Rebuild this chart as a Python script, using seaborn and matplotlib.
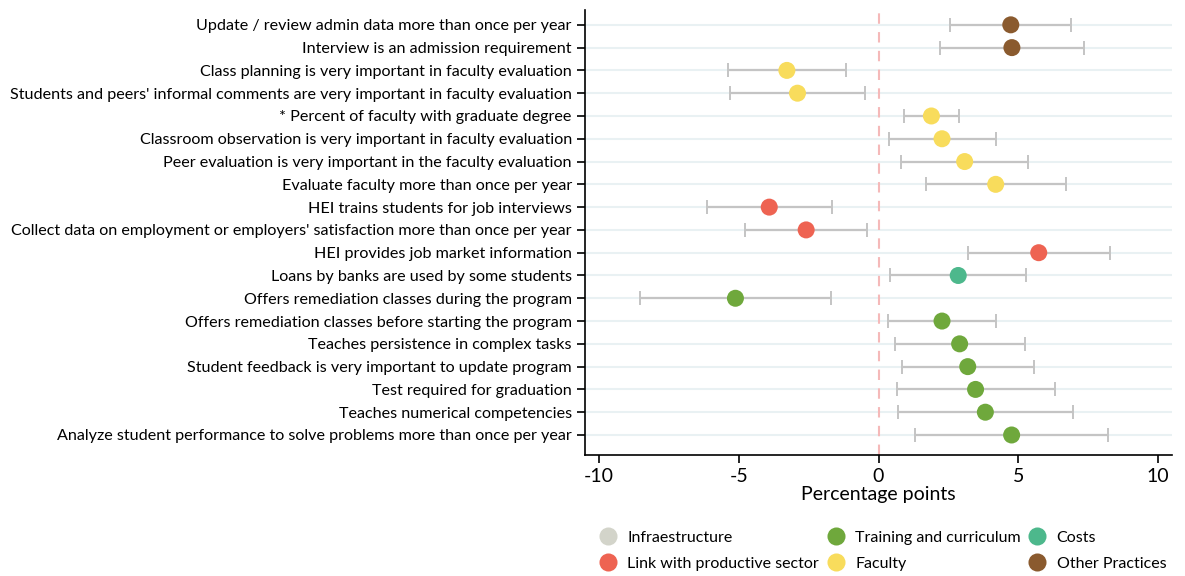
import numpy as np
import pandas as pd
import matplotlib
matplotlib.use("Agg")
from matplotlib import pyplot as plt
from matplotlib.lines import Line2D
import seaborn as sns

labels = [
    "Update / review admin data more than once per year",
    "Interview is an admission requirement",
    "Class planning is very important in faculty evaluation",
    "Students and peers' informal comments are very important in faculty evaluation",
    "* Percent of faculty with graduate degree",
    "Classroom observation is very important in faculty evaluation",
    "Peer evaluation is very important in the faculty evaluation",
    "Evaluate faculty more than once per year",
    "HEI trains students for job interviews",
    "Collect data on employment or employers' satisfaction more than once per year",
    "HEI provides job market information",
    "Loans by banks are used by some students",
    "Offers remediation classes during the program",
    "Offers remediation classes before starting the program",
    "Teaches persistence in complex tasks",
    "Student feedback is very important to update program",
    "Test required for graduation",
    "Teaches numerical competencies",
    "Analyze student performance to solve problems more than once per year",
]
groups = [
    "Other Practices", "Other Practices",
    "Faculty", "Faculty", "Faculty", "Faculty", "Faculty", "Faculty",
    "Link with productive sector", "Link with productive sector", "Link with productive sector",
    "Costs",
    "Training and curriculum", "Training and curriculum", "Training and curriculum",
    "Training and curriculum", "Training and curriculum", "Training and curriculum",
    "Training and curriculum",
]
estimate = [4.73, 4.77, -3.28, -2.90, 1.89, 2.27, 3.08, 4.19, -3.91, -2.59,
            5.73, 2.85, -5.12, 2.27, 2.90, 3.19, 3.47, 3.82, 4.76]
ci_low = [2.57, 2.19, -5.40, -5.32, 0.92, 0.37, 0.79, 1.68, -6.14, -4.76,
          3.20, 0.41, -8.54, 0.34, 0.59, 0.85, 0.66, 0.68, 1.30]
ci_high = [6.88, 7.36, -1.16, -0.47, 2.86, 4.19, 5.36, 6.70, -1.68, -0.42,
           8.28, 5.28, -1.70, 4.21, 5.23, 5.57, 6.31, 6.95, 8.22]

legend_order = ["Infraestructure", "Link with productive sector", "Training and curriculum",
                "Faculty", "Costs", "Other Practices"]
palette = {
    "Infraestructure": "#d3d4ca",
    "Link with productive sector": "#ee6352",
    "Training and curriculum": "#6fa83c",
    "Faculty": "#f8dc5c",
    "Costs": "#4db88c",
    "Other Practices": "#8a5a2e",
}

df = pd.DataFrame({"label": labels, "group": groups, "est": estimate,
                   "lo": ci_low, "hi": ci_high})
df["pos"] = np.arange(len(df))

sns.set_style("white")
plt.rcParams["font.family"] = ["Lato", "DejaVu Sans"]
plt.rcParams["text.color"] = "black"
plt.rcParams["axes.labelcolor"] = "black"
plt.rcParams["xtick.color"] = "black"
plt.rcParams["ytick.color"] = "black"

fig = plt.figure(figsize=(11.85, 5.76), dpi=100)
ax = fig.add_axes([0.4937, 0.21, 0.4954, 0.773])

for p in df["pos"]:
    ax.axhline(p, color="#e9f1f3", lw=1.5, zorder=0)
ax.axvline(0, color="#f5b9b9", lw=1.5, ls=(0, (5, 4)), zorder=1)

ax.errorbar(df["est"], df["pos"],
            xerr=[df["est"] - df["lo"], df["hi"] - df["est"]],
            fmt="none", ecolor="#c4c4c4", elinewidth=1.6, capsize=5, capthick=1.4, zorder=2)

sns.scatterplot(data=df, x="est", y="pos", hue="group", palette=palette,
                s=150, edgecolor="none", legend=False, ax=ax, zorder=3)

ax.set_xlim(-10.5, 10.5)
ax.set_ylim(18.88, -0.66)
ax.set_xticks([-10, -5, 0, 5, 10])
ax.set_xticklabels(["-10", "-5", "0", "5", "10"], fontsize=14)
ax.set_yticks(df["pos"])
ax.set_yticklabels(df["label"], fontsize=11.6)
ax.tick_params(axis="both", direction="out", length=6, width=1.2, color="black", left=True, bottom=True)
ax.tick_params(axis="x", pad=3)
ax.set_xlabel("Percentage points", fontsize=14, labelpad=1)
ax.set_ylabel("")

for side in ["top", "right"]:
    ax.spines[side].set_visible(False)
for side in ["left", "bottom"]:
    ax.spines[side].set_color("black")
    ax.spines[side].set_linewidth(1.2)

handles = [Line2D([], [], marker="o", ls="none", markersize=13, markerfacecolor=palette[g],
                  markeredgecolor="none", label=g) for g in legend_order]
fig.legend(handles=handles, loc="center", bbox_to_anchor=(0.742, 0.044), ncol=3,
           frameon=False, fontsize=11.5, handletextpad=0.2, columnspacing=0.05,
           labelspacing=0.72)

fig.savefig("out.png", dpi=100)
